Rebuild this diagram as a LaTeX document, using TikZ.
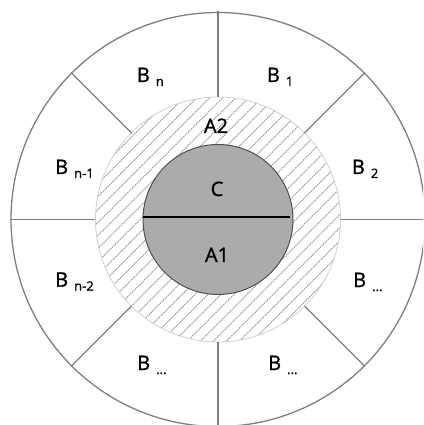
\documentclass[tikz,border=0pt]{standalone}
\usepackage{fontspec}
\setmainfont{Open Sans}
\newfontfamily\lblfont{Open Sans}[FakeBold=1.2]
\definecolor{spoke}{HTML}{808080}
\definecolor{hatch}{HTML}{8C8C8C}
\definecolor{ringline}{HTML}{D0D0D0}
\definecolor{core}{HTML}{ABABAB}
\definecolor{coreline}{HTML}{505050}
\tikzset{
  lbl/.style={inner sep=0pt, anchor=base west, font=\lblfont\fontsize{20}{20}\selectfont},
  mid/.style={inner sep=0pt, anchor=base, font=\lblfont\fontsize{20}{20}\selectfont},
  spokeline/.style={draw=spoke, line width=1.3pt},
}
\newcommand{\Bsub}[1]{B\hspace{6pt}\raisebox{-4pt}{\fontsize{13}{13}\selectfont #1}}
\begin{document}
\begin{tikzpicture}[x=1pt,y=1pt]
  % image coords: center at (218,219.5), y up
  \useasboundingbox (-218,-205.5) rectangle (205,219.5);
  \clip (-218,-205.5) rectangle (205,219.5);
  \fill[white] (-218,-205.5) rectangle (205,219.5);
  \coordinate (O) at (0,0);
  % hatched ring
  \begin{scope}
    \clip (O) circle (122.5);
    \foreach \k in {-260,-247,...,260}
      \draw[hatch, line width=0.8pt, dash pattern=on 1.3pt off 0.9pt] (\k-140,-140) -- (\k+140,140);
  \end{scope}
  \draw[ringline, line width=0.8pt] (O) circle (122.5);
  % core
  \draw[fill=core, draw=coreline, line width=1pt] (O) circle (75);
  \coordinate (cl) at (-74.95,2.5);
  \coordinate (cr) at (72,2.5);
  \draw[black, line width=1.5pt] (cl) -- (cr);
  % spokes
  \foreach \a in {0,45,...,315}
    \draw[spokeline] (\a:122.5) -- (\a:208);
  \draw[spokeline] (O) circle (207);
  % labels (base west at B left / baseline)
  \node[lbl] (bn)  at (136.7-218, 219.5-82)  {\Bsub{n}};
  \node[lbl] (b1)  at (266.7-218, 219.5-82)  {\Bsub{1}};
  \node[lbl] (bn1) at (55-218,    219.5-174) {\Bsub{n-1}};
  \node[lbl] (b2)  at (351.7-218, 219.5-174) {\Bsub{2}};
  \node[lbl] (bn2) at (55-218,    219.5-286.7) {\Bsub{n-2}};
  \node[lbl] (bd1) at (353-218,   219.5-287) {\Bsub{...}};
  \node[lbl] (bd2) at (137-218,   219.5-370) {\Bsub{...}};
  \node[lbl] (bd3) at (268-218,   219.5-370) {\Bsub{...}};
  \node[mid] (a2) at (216-218, 219.5-133) {A2};
  \node[mid] (c)  at (217-218, 219.5-196) {C};
  \node[mid] (a1) at (217-218, 219.5-262) {A1};
\end{tikzpicture}
\end{document}
